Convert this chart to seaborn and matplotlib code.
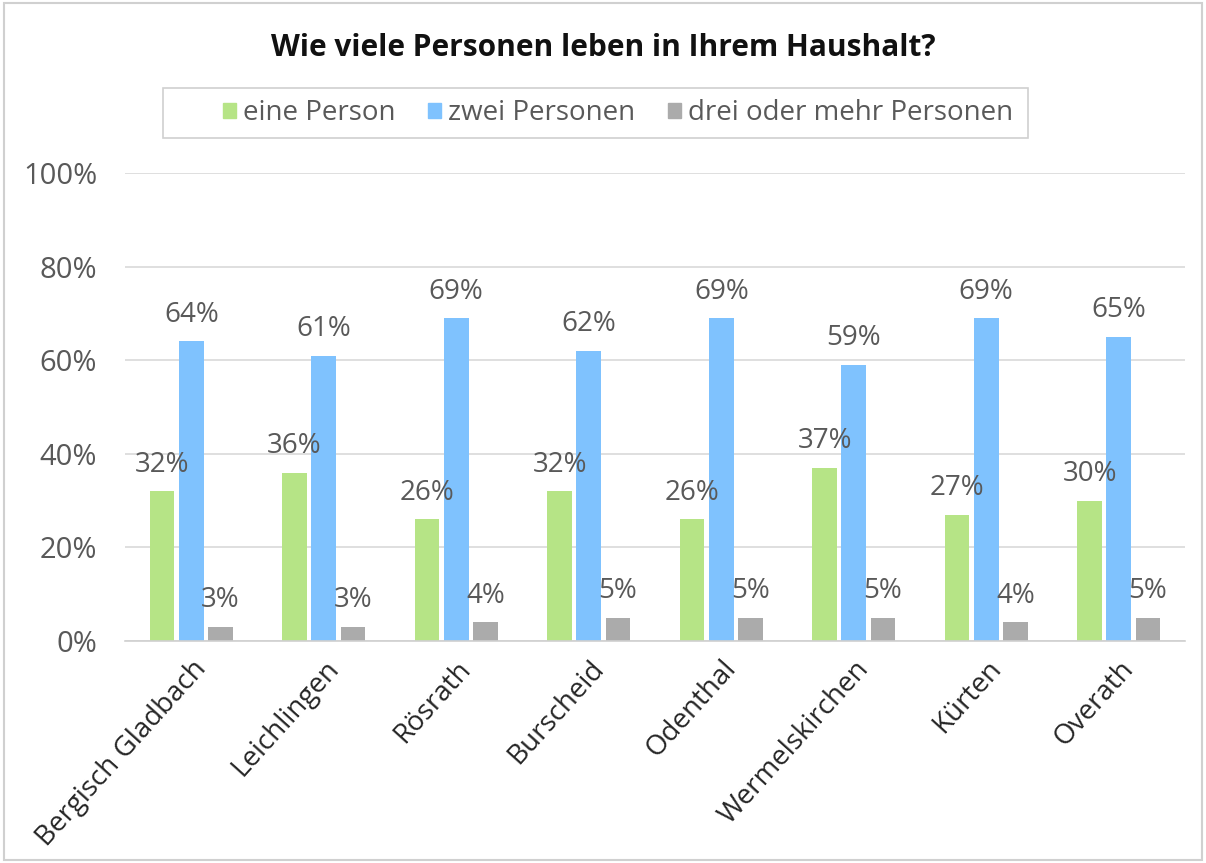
import numpy as np
import pandas as pd
import matplotlib.pyplot as plt
import seaborn as sns
from matplotlib.patches import Rectangle

# Daten
orte = ['Bergisch Gladbach', 'Leichlingen', 'Rösrath', 'Burscheid',
        'Odenthal', 'Wermelskirchen', 'Kürten', 'Overath']
gruppen = ['eine Person', 'zwei Personen', 'drei oder mehr Personen']
eine_person = [32, 36, 26, 32, 26, 37, 27, 30]
zwei_personen = [64, 61, 69, 62, 69, 59, 69, 65]
drei_mehr = [3, 3, 4, 5, 5, 5, 4, 5]

df = pd.DataFrame({
    'Ort': orte * 3,
    'Gruppe': [gruppen[0]] * 8 + [gruppen[1]] * 8 + [gruppen[2]] * 8,
    'Wert': eine_person + zwei_personen + drei_mehr,
})

farben = ['#b6e486', '#7fc2fe', '#ababab']
textfarbe = '#595959'

sns.set_style('white')
plt.rcParams['font.family'] = ['Open Sans', 'DejaVu Sans']

fig = plt.figure(figsize=(12.06, 8.63), dpi=100)
ax = fig.add_axes([125 / 1206, 1 - 641 / 863, 1060 / 1206, 468 / 863])

sns.barplot(data=df, x='Ort', y='Wert', hue='Gruppe', palette=farben,
            saturation=1, linewidth=0, width=0.66, gap=0.15, ax=ax, legend=False)

# Datenbeschriftungen
for container in ax.containers:
    for bar in container:
        h = bar.get_height()
        ax.annotate(f'{h:.0f}%', (bar.get_x() + bar.get_width() / 2, h),
                    xytext=(0, 9), textcoords='offset points',
                    ha='center', va='bottom', fontsize=20, color=textfarbe)

ax.set_ylim(0, 100)
ax.set_yticks([0, 20, 40, 60, 80, 100])
ax.set_yticklabels([f'{v}%' for v in [0, 20, 40, 60, 80, 100]],
                   fontsize=21, color=textfarbe)
ax.set_xlim(-0.5, 7.5)
ax.set_xticks(range(8))
ax.set_xticklabels(orte, rotation=48, ha='right', rotation_mode='anchor',
                   fontsize=20, color='#262626')
ax.tick_params(axis='x', length=0, pad=10)
ax.tick_params(axis='y', length=0, pad=20)
ax.set_xlabel('')
ax.set_ylabel('')
ax.grid(axis='y', color='#d9d9d9', linewidth=1.2)
ax.set_axisbelow(True)
for s in ['top', 'right', 'left']:
    ax.spines[s].set_visible(False)
ax.spines['bottom'].set_color('#d0d0d0')
ax.spines['bottom'].set_linewidth(1.2)

fig.text(0.5, 1 - 48 / 863, 'Wie viele Personen leben in Ihrem Haushalt?',
         ha='center', va='center', fontsize=21.5, fontweight='bold', color='#111111')

# Legende (Rahmen separat gezeichnet)
handles = [Rectangle((0, 0), 1, 1, color=c) for c in farben]
fig.legend(handles, gruppen, loc='center',
           bbox_to_anchor=(618 / 1206, 1 - 113 / 863), ncol=3,
           fontsize=20, frameon=False,
           handlelength=0.45, handleheight=0.45, handletextpad=0.25,
           columnspacing=1.2, labelcolor=textfarbe)
fig.patches.append(Rectangle((163 / 1206, 1 - 138 / 863), 865 / 1206, 50 / 863,
                             transform=fig.transFigure, fill=False,
                             edgecolor='#d0d0d0', linewidth=1.2))

# Rahmen um die Abbildung
fig.patches.append(Rectangle((0.003, 0.003), 0.994, 0.994, transform=fig.transFigure,
                             fill=False, edgecolor='#d0d0d0', linewidth=1.5))

fig.savefig('out.png', dpi=100)
